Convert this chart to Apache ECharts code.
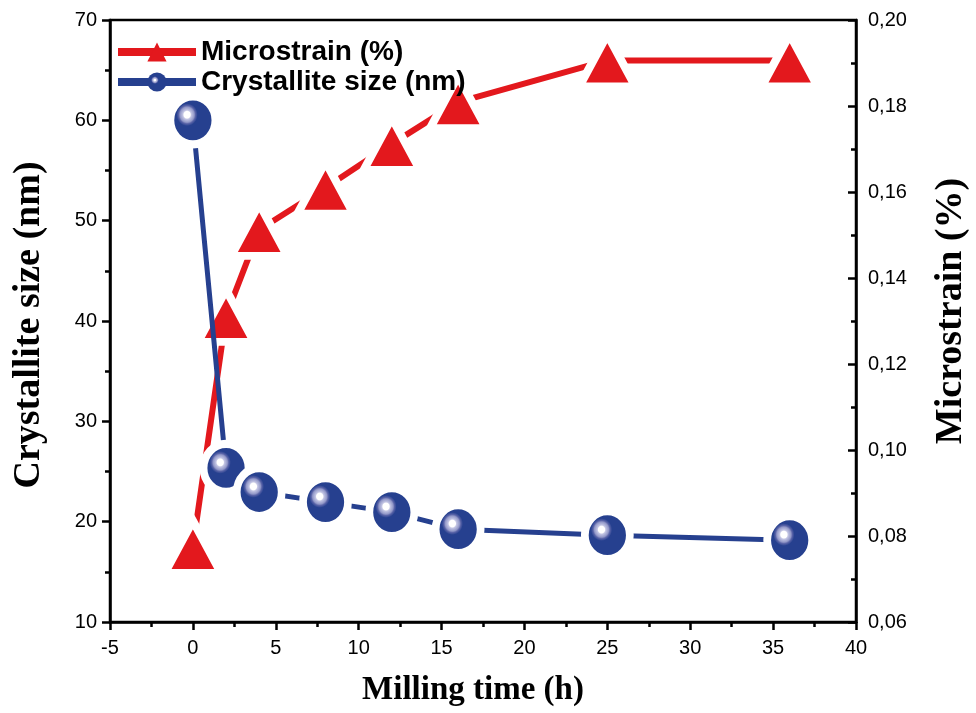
<!DOCTYPE html>
<html>
<head>
<meta charset="utf-8">
<script src="https://cdn.jsdelivr.net/npm/echarts@6/dist/echarts.min.js"></script>
<style>html,body{margin:0;padding:0;background:#fff}#c{width:976px;height:713px}</style>
</head>
<body>
<div id="c"></div>
<script>
const millingTime = [0, 2, 4, 8, 12, 16, 25, 36];
const crystalliteSize = [60, 25.35, 22.95, 21.95, 20.95, 19.25, 18.65, 18.15];
const microstrain = [0.0775, 0.1312, 0.1512, 0.161, 0.1712, 0.1809, 0.1906, 0.1906];
const seriesNames = ['Microstrain (%)', 'Crystallite size (nm)'];
const xTitle = 'Milling time (h)';
const yLeftTitle = 'Crystallite size (nm)';
const yRightTitle = 'Microstrain (%)';

const RED = '#E3181D';
const BLUE = '#26408F';
const chart = echarts.init(document.getElementById('c'), null, {renderer: 'canvas'});

const ballFill = new echarts.graphic.RadialGradient(0.39, 0.40, 0.5, [
  {offset: 0, color: '#ffffff'},
  {offset: 0.12, color: '#ffffff'},
  {offset: 0.16, color: '#c4c6e4'},
  {offset: 0.27, color: '#9298c8'},
  {offset: 0.32, color: '#5a64a8'},
  {offset: 0.40, color: BLUE},
  {offset: 1, color: BLUE}
]);

const axisCommon = {
  axisLine: {show: true, onZero: false, lineStyle: {color: '#000', width: 2.5}},
  axisTick: {show: true, length: 8, lineStyle: {color: '#000', width: 2.5}},
  minorTick: {show: true, splitNumber: 2, length: 5, lineStyle: {color: '#000', width: 2.5}},
  splitLine: {show: false},
  axisLabel: {fontFamily: 'Liberation Sans', fontSize: 20, color: '#000'},
  nameTextStyle: {fontFamily: 'Liberation Serif', fontWeight: 'bold', fontSize: 33, color: '#000'}
};
const yTitleStyle = {fontFamily: 'Liberation Serif', fontWeight: 'bold', fontSize: 38, color: '#000'};

const option = {
  animation: false,
  backgroundColor: '#fff',
  grid: {left: 110, right: 120, top: 20, bottom: 91, show: true, borderColor: '#000', borderWidth: 2.5, backgroundColor: 'transparent', outerBoundsMode: 'none', containLabel: false},
  legend: {
    data: seriesNames,
    orient: 'vertical',
    left: 114, top: 38, padding: 0,
    itemWidth: 78, itemHeight: 24, itemGap: 2,
    textStyle: {fontFamily: 'Liberation Sans', fontWeight: 'bold', fontSize: 28, color: '#000'},
    itemStyle: {borderWidth: 0},
    lineStyle: {width: 8}
  },
  xAxis: Object.assign({}, axisCommon, {
    type: 'value', min: -5, max: 40, interval: 5,
    name: xTitle, nameLocation: 'middle', nameGap: 52,
    nameTextStyle: Object.assign({}, axisCommon.nameTextStyle, {padding: [0, 20, 0, 0]}),
    axisLabel: Object.assign({}, axisCommon.axisLabel, {margin: 16})
  }),
  yAxis: [
    Object.assign({}, axisCommon, {
      type: 'value', position: 'left', min: 10, max: 70, interval: 10,
      name: yLeftTitle, nameLocation: 'middle', nameGap: 62, nameRotate: 90,
      nameTextStyle: Object.assign({}, yTitleStyle, {padding: [0, 8, 0, 0]}),
      axisLabel: Object.assign({}, axisCommon.axisLabel, {margin: 13})
    }),
    Object.assign({}, axisCommon, {
      type: 'value', position: 'right', min: 0.06, max: 0.20, interval: 0.02,
      name: yRightTitle, nameLocation: 'middle', nameGap: 76, nameRotate: 90,
      nameTextStyle: Object.assign({}, yTitleStyle, {padding: [0, 0, 0, 20]}),
      axisTick: {show: true, inside: true, length: 8, lineStyle: {color: '#000', width: 2.5}},
      minorTick: {show: true, splitNumber: 2, length: 5, lineStyle: {color: '#000', width: 2.5}},
      axisLabel: Object.assign({}, axisCommon.axisLabel, {margin: 12, formatter: v => v.toFixed(2).replace('.', ',')})
    })
  ],
  series: [
    {
      name: seriesNames[0], type: 'line', yAxisIndex: 1,
      data: millingTime.map((x, i) => [x, microstrain[i]]),
      symbol: 'triangle', symbolSize: [56, 52],
      lineStyle: {color: RED, width: 6},
      itemStyle: {color: RED, borderColor: '#fff', borderWidth: 8},
      z: 2
    },
    {
      name: seriesNames[1], type: 'line', yAxisIndex: 0,
      data: millingTime.map((x, i) => [x, crystalliteSize[i]]),
      symbol: 'circle', symbolSize: [45, 48],
      lineStyle: {color: BLUE, width: 5},
      itemStyle: {color: ballFill, borderColor: '#fff', borderWidth: 8},
      z: 3
    }
  ]
};
chart.setOption(option);
</script>
</body>
</html>
